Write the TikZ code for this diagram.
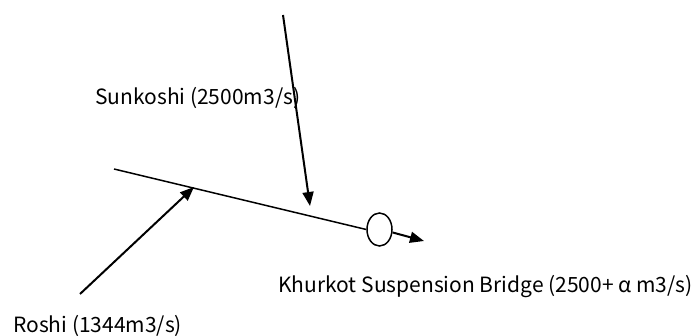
\documentclass[tikz,border=0pt]{standalone}
\usepackage{fontspec}
\setmainfont{Noto Sans CJK JP}
\usetikzlibrary{arrows.meta,shapes.geometric}
\begin{document}
\begin{tikzpicture}[x=1pt,y=-1pt,
  flow/.style={line width=2pt,-{Triangle[length=14pt,width=11pt]}},
  river/.style={line width=1.5pt},
  lbl/.style={anchor=west,inner sep=0pt,font=\fontsize{21}{24}\selectfont}]
\useasboundingbox (0,0) rectangle (692,336);
\coordinate (rs) at (114,169);
\node[draw,ellipse,line width=1.5pt,minimum width=25pt,minimum height=33pt,inner sep=0pt] (bridge) at (379.5,229.5) {};
\draw[river] (rs) -- (bridge.west);
\coordinate (out) at (424,241);
\path (bridge.east) ++(0,3) coordinate (bo);
\draw[flow] (bo) -- (out);
\coordinate (sk0) at (283,15);
\coordinate (sk1) at (310,206);
\draw[flow] (sk0) -- (sk1);
\coordinate (ro0) at (80,294);
\coordinate (ro1) at (194,187);
\draw[flow] (ro0) -- (ro1);
\node[lbl] (sun) at (95,98) {Sunkoshi (2500m3/s)};
\node[lbl] (khu) at (278,287) {Khurkot Suspension Bridge (2500+ α m3/s)};
\node[lbl] (ros) at (13,326) {Roshi (1344m3/s)};
\end{tikzpicture}
\end{document}
